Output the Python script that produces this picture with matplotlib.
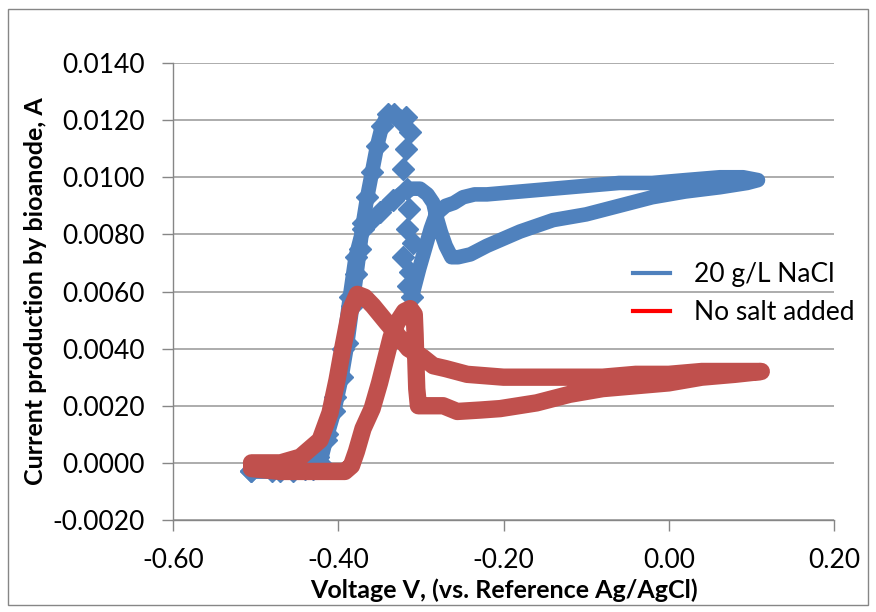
import matplotlib
matplotlib.use('Agg')
import matplotlib.pyplot as plt
from matplotlib.lines import Line2D
from matplotlib.patches import Rectangle
from matplotlib.ticker import FuncFormatter

plt.rcParams['font.family'] = ['Lato', 'DejaVu Sans']

# 20 g/L NaCl -- anodic sweep up to the main peak
salt_rise_v = [-0.505, -0.480, -0.455, -0.430, -0.422, -0.415, -0.405, -0.396, -0.389, -0.383,
               -0.378, -0.374, -0.370, -0.365, -0.359, -0.353, -0.347, -0.340, -0.333, -0.325,
               -0.318]
salt_rise_i = [-0.0003, -0.0003, -0.0003, -0.0002, 0.0000, 0.0008, 0.0018, 0.0030, 0.0042, 0.0055,
               0.0066, 0.0075, 0.0084, 0.0093, 0.0102, 0.0111, 0.0118, 0.0122, 0.0122, 0.0120,
               0.0121]

# fast current drop after the peak (sparse points)
salt_drop_v = [-0.313, -0.318, -0.322, -0.317, -0.314, -0.317, -0.310, -0.322, -0.313, -0.315, -0.311]
salt_drop_i = [0.0116, 0.0110, 0.0103, 0.0096, 0.0089, 0.0082, 0.0077, 0.0072, 0.0067, 0.0062, 0.0058]

# rest of the loop: up to +0.1 V and back down to -0.5 V
salt_loop_v = [-0.311, -0.302, -0.294, -0.288, -0.283, -0.278, -0.270, -0.260, -0.249, -0.235,
               -0.220, -0.180, -0.140, -0.100, -0.060, -0.020, 0.020, 0.062, 0.090, 0.108,
               0.095, 0.062, 0.020, -0.020, -0.060, -0.100, -0.140, -0.180, -0.220, -0.240,
               -0.255, -0.263, -0.270, -0.276, -0.281, -0.285, -0.292, -0.301, -0.310, -0.320,
               -0.334, -0.349, -0.360, -0.370, -0.379, -0.386, -0.394, -0.404, -0.414, -0.424,
               -0.440, -0.470, -0.505]
salt_loop_i = [0.0058, 0.0068, 0.0076, 0.0082, 0.0086, 0.0088, 0.0090, 0.0091, 0.0093, 0.0094,
               0.0094, 0.0095, 0.0096, 0.0097, 0.0098, 0.0098, 0.0099, 0.0100, 0.0100, 0.0099,
               0.0098, 0.00965, 0.0095, 0.0093, 0.0090, 0.0087, 0.0085, 0.0081, 0.0076, 0.0073,
               0.0072, 0.0072, 0.0076, 0.0081, 0.0086, 0.0091, 0.0094, 0.0096, 0.0096, 0.0095,
               0.0092, 0.0088, 0.0085, 0.0082, 0.0072, 0.0058, 0.0040, 0.0023, 0.0010, 0.0002,
               -0.0002, -0.0003, -0.0003]

# no salt added -- full loop
nosalt_v = [-0.505, -0.470, -0.440, -0.410, -0.392, -0.384, -0.378, -0.370, -0.359, -0.350,
            -0.343, -0.336, -0.329, -0.320, -0.313, -0.308, -0.307, -0.306, -0.305, -0.303,
            -0.290, -0.273, -0.256, -0.228, -0.204, -0.160, -0.120, -0.080, -0.040, 0.000,
            0.040, 0.080, 0.112,
            0.080, 0.040, 0.000, -0.040, -0.080, -0.120, -0.160, -0.200, -0.244, -0.270,
            -0.285, -0.298, -0.315, -0.329, -0.341, -0.358, -0.368, -0.377, -0.386, -0.394,
            -0.4015, -0.410, -0.422, -0.446, -0.470, -0.505]
nosalt_i = [-0.0002, -0.0003, -0.0003, -0.0003, -0.0003, -0.0001, 0.0004, 0.0012, 0.0019, 0.0028,
            0.0036, 0.0044, 0.0049, 0.0053, 0.0054, 0.0052, 0.0045, 0.0035, 0.0026, 0.0020,
            0.0020, 0.0020, 0.0018, 0.00185, 0.0019, 0.0021, 0.0024, 0.0026, 0.0027, 0.0028,
            0.0030, 0.0031, 0.0032,
            0.0032, 0.0032, 0.0031, 0.0031, 0.0030, 0.0030, 0.0030, 0.0030, 0.0031, 0.0033,
            0.0034, 0.0037, 0.0040, 0.0045, 0.0049, 0.0055, 0.0058, 0.0059, 0.0053, 0.0041,
            0.0029, 0.00175, 0.0008, 0.0002, 0.0000, 0.0000]

x_ticks = [-0.60, -0.40, -0.20, 0.00, 0.20]
y_ticks = [-0.0020, 0.0000, 0.0020, 0.0040, 0.0060, 0.0080, 0.0100, 0.0120, 0.0140]

blue = '#4F81BD'
red = '#C0504D'
grey = '#868686'

fig = plt.figure(figsize=(8.76, 6.12), dpi=100)
ax = fig.add_axes([173/876, 92/612, 661/876, 457/612])

# outer chart border
fig.patches.append(Rectangle((8/876, 7/612), 860/876, 596/612, transform=fig.transFigure,
                             fill=False, edgecolor=grey, linewidth=1))

line_kw = dict(solid_joinstyle='round', solid_capstyle='round')
ax.plot(salt_rise_v, salt_rise_i, color=blue, lw=10.5, marker='D', ms=11, zorder=2, **line_kw)
ax.plot(salt_drop_v, salt_drop_i, color=blue, lw=0, marker='D', ms=11, zorder=2)
ax.plot(salt_loop_v, salt_loop_i, color=blue, lw=10.5, zorder=2, **line_kw)
ax.plot(salt_loop_v[40:], salt_loop_i[40:], color=blue, lw=0, marker='D', ms=11, zorder=2)
ax.plot(nosalt_v, nosalt_i, color=red, lw=12.5, zorder=3, **line_kw)

ax.set_xlim(-0.60, 0.20)
ax.set_ylim(-0.0020, 0.0140)
ax.set_xticks(x_ticks)
ax.set_yticks(y_ticks)
ax.xaxis.set_major_formatter(FuncFormatter(lambda v, p: f'{v:.2f}'))
ax.yaxis.set_major_formatter(FuncFormatter(lambda v, p: f'{v:.4f}'))
ax.tick_params(axis='both', labelsize=19, colors=grey, labelcolor='black', length=8, width=1)
ax.tick_params(axis='y', pad=12)
ax.tick_params(axis='x', pad=12)

ax.grid(axis='y', color='#A6A6A6', lw=1.3)
ax.set_axisbelow(True)
for side in ['top', 'right']:
    ax.spines[side].set_visible(False)
for side in ['left', 'bottom']:
    ax.spines[side].set_color(grey)
    ax.spines[side].set_linewidth(1)

ax.set_xlabel('Voltage V, (vs. Reference Ag/AgCl)', fontsize=18, fontweight='bold', labelpad=4)
ax.set_ylabel('Current production by bioanode, A', fontsize=18, fontweight='bold', labelpad=4)

handles = [Line2D([], [], color=blue, lw=3), Line2D([], [], color='#FF0000', lw=3)]
ax.legend(handles, ['20 g/L NaCl', 'No salt added'], loc='upper left',
          bbox_to_anchor=(633/876, 1 - 262/612), bbox_transform=fig.transFigure,
          frameon=False, fontsize=19, handlelength=1.4, handletextpad=0.9,
          labelspacing=0.5, borderpad=0, borderaxespad=0)

fig.savefig('out.png', dpi=100)
